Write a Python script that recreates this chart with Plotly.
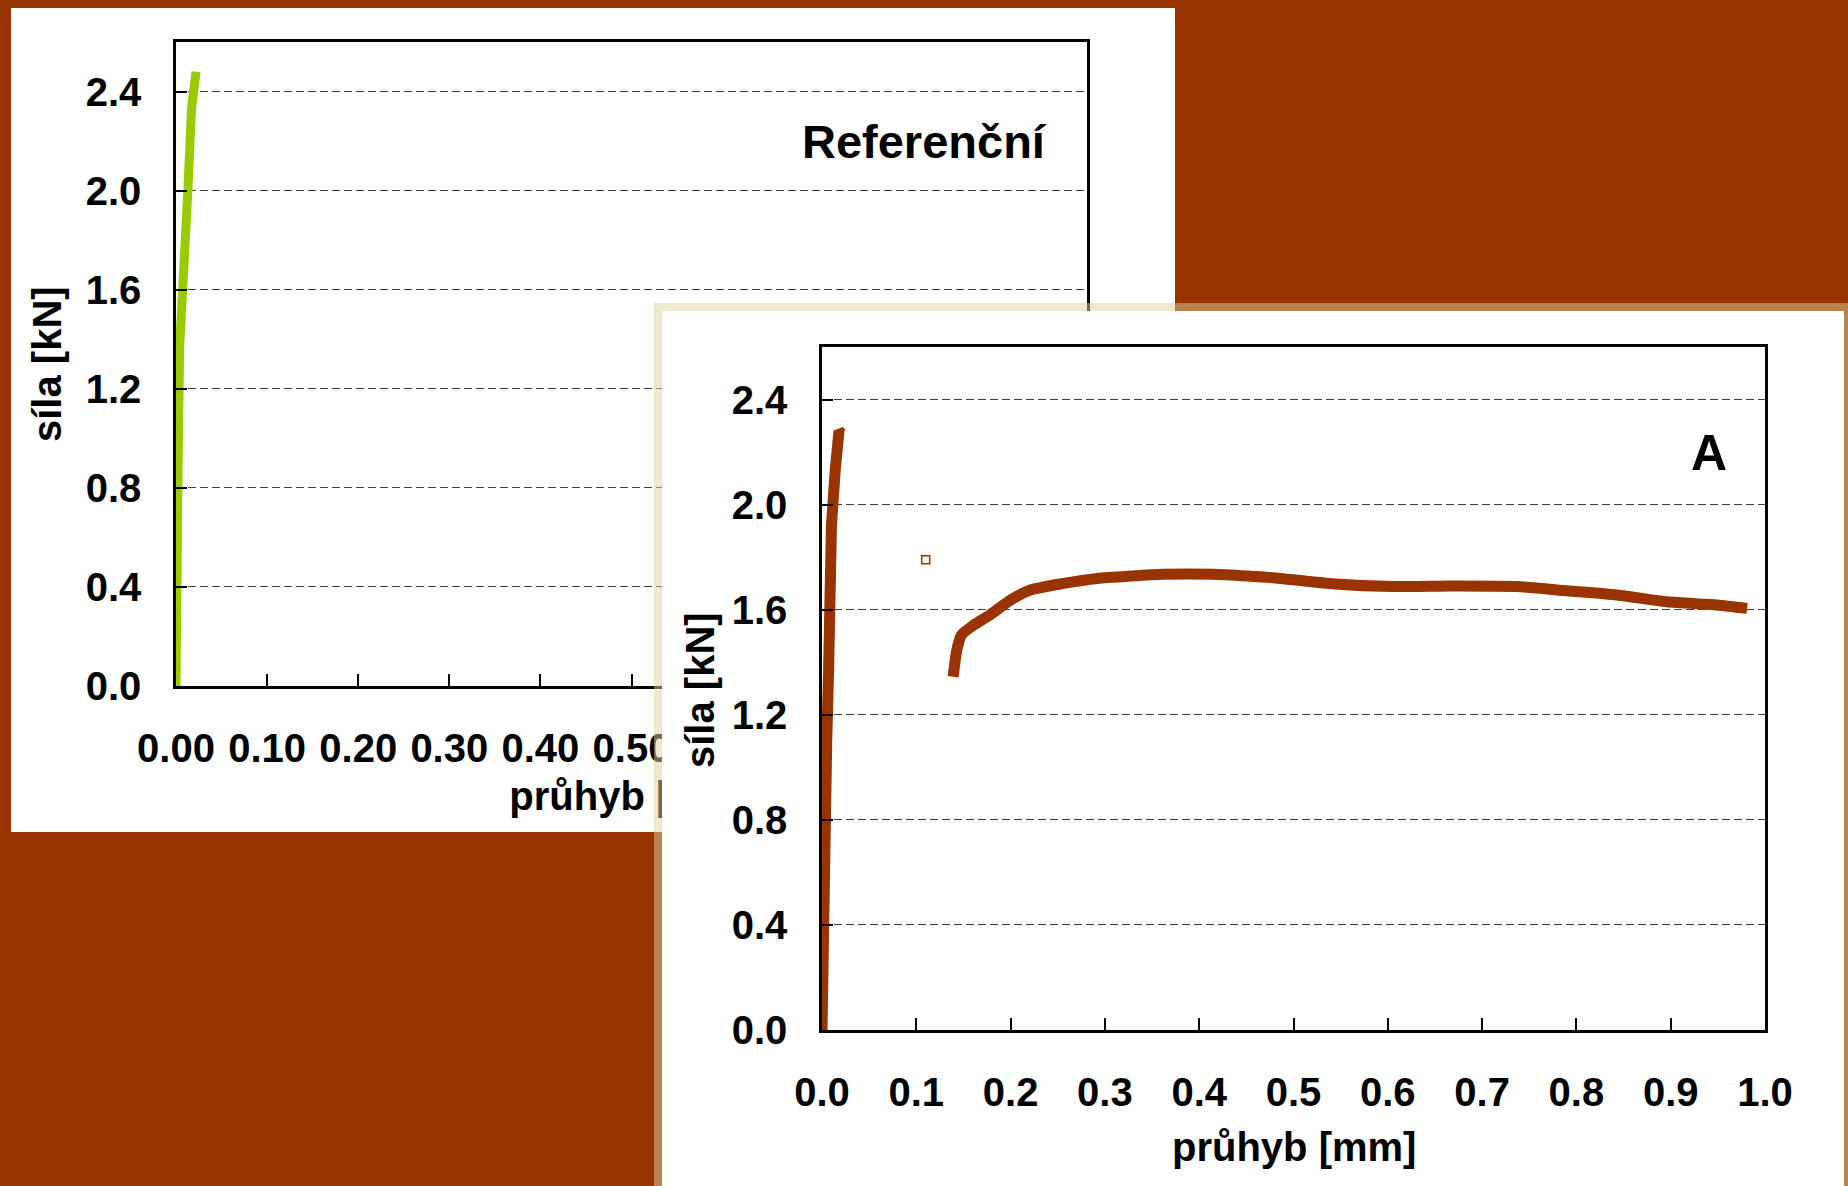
import plotly.graph_objects as go

# ---------------- data ----------------
# Reference specimen ("Referenční")
ref_x = [0.0, 0.0, 0.002, 0.004, 0.008, 0.013, 0.017, 0.022]
ref_y = [0.0, 0.5, 0.8, 1.37, 1.6, 2.0, 2.33, 2.48]

# Specimen A: initial loading branch
a_load_x = [0.0, 0.001, 0.003, 0.005, 0.007, 0.008, 0.010, 0.014, 0.018, 0.021]
a_load_y = [0.0, 0.40, 0.80, 1.10, 1.37, 1.69, 1.92, 2.13, 2.28, 2.27]

# Specimen A: isolated point
a_pt_x = [0.110]
a_pt_y = [1.79]

# Specimen A: post-crack branch
a_post_x = [0.139, 0.141, 0.143, 0.148, 0.161, 0.178, 0.200, 0.221, 0.256, 0.292,
            0.327, 0.362, 0.415, 0.451, 0.486, 0.540, 0.606, 0.666, 0.737, 0.790,
            0.843, 0.896, 0.949, 0.981]
a_post_y = [1.345, 1.400, 1.447, 1.504, 1.542, 1.580, 1.637, 1.675, 1.700, 1.719,
            1.728, 1.735, 1.735, 1.728, 1.719, 1.699, 1.688, 1.690, 1.688, 1.672,
            1.656, 1.630, 1.618, 1.605]

y_range = [0, 2.6]
x_range = [0, 1.0]
y_title = "síla [kN]"
x_title = "průhyb [mm]"
label_ref = "Referenční"
label_a = "A"

# ---------------- styling ----------------
W, H = 1848, 1186
BG = "#993300"
GREEN = "#99CC00"
BROWN = "#993300"
FONT = "Liberation Sans"
BORDER = "rgba(221,209,153,0.5)"


def px(x):
    return x / W


def py(y):
    return 1 - y / H


fig = go.Figure()

fig.add_trace(go.Scatter(x=ref_x, y=ref_y, mode="lines", xaxis="x", yaxis="y",
                         line=dict(color=GREEN, width=9), hoverinfo="skip", showlegend=False))
# helper trace for the overlay axis carrying the (partly hidden) x title of chart 1
fig.add_trace(go.Scatter(x=[], y=[], mode="lines", xaxis="x4", yaxis="y",
                         hoverinfo="skip", showlegend=False))
# empty trace creating the white cover panel of chart A
fig.add_trace(go.Scatter(x=[], y=[], mode="lines", xaxis="x2", yaxis="y2",
                         hoverinfo="skip", showlegend=False))
fig.add_trace(go.Scatter(x=a_load_x, y=a_load_y, mode="lines", xaxis="x3", yaxis="y3",
                         line=dict(color=BROWN, width=11), hoverinfo="skip", showlegend=False))
fig.add_trace(go.Scatter(x=a_post_x, y=a_post_y, mode="lines", xaxis="x3", yaxis="y3",
                         line=dict(color=BROWN, width=11, shape="spline", smoothing=0.6),
                         hoverinfo="skip", showlegend=False))
fig.add_trace(go.Scatter(x=a_pt_x, y=a_pt_y, mode="markers", xaxis="x3", yaxis="y3",
                         marker=dict(symbol="square-open", size=8, color=BROWN,
                                     line=dict(color=BROWN, width=1.5)),
                         hoverinfo="skip", showlegend=False))

tickfont = dict(family=FONT, size=40, color="black", weight="bold")

common_x = dict(range=x_range, ticks="inside", ticklen=12, tickwidth=2, tickcolor="black",
                showline=True, linecolor="black", linewidth=2.5, mirror=True,
                showgrid=False, zeroline=False, dtick=0.1, tick0=0, automargin=False,
                tickfont=tickfont, ticklabelstandoff=25)
common_y = dict(range=y_range, ticks="inside", ticklen=11, tickwidth=2, tickcolor="black",
                showline=True, linecolor="black", linewidth=2.5, mirror=True,
                showgrid=True, gridcolor="#404040", gridwidth=1, griddash="8px,4px",
                zeroline=False, dtick=0.4, tick0=0, tickformat=".1f", automargin=False,
                tickfont=tickfont, ticklabelstandoff=24)

fig.update_layout(
    width=W, height=H, autosize=False,
    margin=dict(l=0, r=0, t=0, b=0, pad=0, autoexpand=False),
    paper_bgcolor=BG, plot_bgcolor="white",
    showlegend=False,
    xaxis=dict(domain=[px(176), px(1087)], anchor="y", tickformat=".2f", **common_x),
    yaxis=dict(domain=[py(686), py(42)], anchor="x", **common_y),
    xaxis4=dict(overlaying="x", anchor="y", side="bottom", range=[0, 1],
                tickmode="array", tickvals=[0.5], ticktext=[x_title], ticks="",
                showline=False, showgrid=False, zeroline=False, automargin=False,
                tickfont=dict(family=FONT, size=40, color="black", weight="bold"),
                ticklabelstandoff=83),
    xaxis2=dict(domain=[px(662), px(1844)], anchor="y2", range=[0, 1], automargin=False,
                showline=True, linecolor=BORDER, linewidth=8, mirror=True,
                showticklabels=False, ticks="", showgrid=False, zeroline=False),
    yaxis2=dict(domain=[0, py(311)], anchor="x2", range=[0, 1], automargin=False,
                showline=True, linecolor=BORDER, linewidth=8, mirror=True,
                showticklabels=False, ticks="", showgrid=False, zeroline=False),
    xaxis3=dict(domain=[px(822), px(1765)], anchor="y3", tickformat=".1f", **common_x),
    yaxis3=dict(domain=[py(1030), py(347)], anchor="x3", **common_y),
    shapes=[
        dict(type="rect", xref="paper", yref="paper", x0=px(11), x1=px(1175),
             y0=py(832), y1=py(8), fillcolor="white", line=dict(width=0), layer="below"),
    ],
    annotations=[
        dict(text=label_ref, x=px(924), y=py(141), xref="paper", yref="paper",
             showarrow=False, xanchor="center", yanchor="middle",
             font=dict(family=FONT, size=47, color="black", weight="bold")),
        dict(text=label_a, x=px(1709), y=py(453), xref="paper", yref="paper",
             showarrow=False, xanchor="center", yanchor="middle",
             font=dict(family=FONT, size=50, color="black", weight="bold")),
        dict(text=y_title, x=px(47), y=py(364), xref="paper", yref="paper",
             textangle=-90, showarrow=False, xanchor="center", yanchor="middle",
             font=dict(family=FONT, size=40, color="black", weight="bold")),
        dict(text=y_title, x=px(700), y=py(690), xref="paper", yref="paper",
             textangle=-90, showarrow=False, xanchor="center", yanchor="middle",
             font=dict(family=FONT, size=40, color="black", weight="bold")),
        dict(text=x_title, x=px(1294), y=py(1147), xref="paper", yref="paper",
             showarrow=False, xanchor="center", yanchor="middle",
             font=dict(family=FONT, size=40, color="black", weight="bold")),
    ],
)

fig.write_html("out.html", config={"displayModeBar": False})
